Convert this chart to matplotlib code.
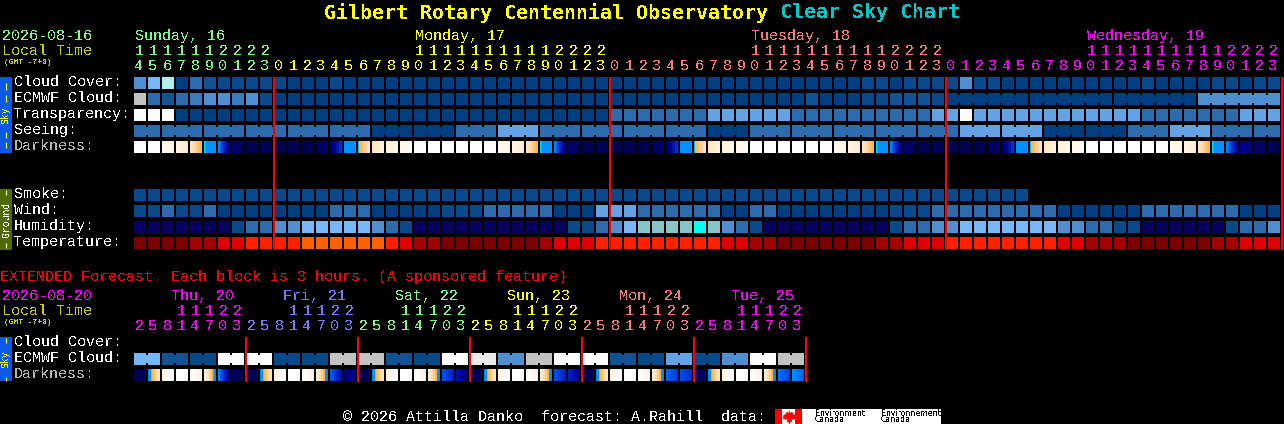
import matplotlib
matplotlib.use('Agg')
import matplotlib.pyplot as plt
import numpy as np
from matplotlib.colors import LinearSegmentedColormap

plt.rcParams['text.antialiased'] = False
MONO = 'Liberation Mono'

# block colours, the rows below index into this
palette = ['#003f7f', '#0a4989', '#135393', '#2c6cac', '#3b7bbb', '#4f8fcf', '#63a3e3', '#77b7f7',
           '#aeeeee', '#c2c2c2', '#eaeaea', '#fcfcfc', '#08005e', '#88c4c4', '#00ffee']
temp_palette = ['#7a0000', '#a40000', '#e00000', '#ff2000', '#ff6000']

# 82 hourly columns
cloud = [5, 7, 8, 0, 3, 2, 1, 1, 1, 1, 1, 0, 0, 0, 1, 0, 0, 0, 0, 0, 0, 0, 0, 0, 0, 0, 0, 0, 0, 0, 0, 0, 0, 0, 0, 0, 0,
         0, 0, 0, 0, 0, 0, 0, 0, 0, 0, 0, 0, 0, 0, 0, 1, 1, 0, 1, 1, 1, 1, 5, 1, 1, 0, 0, 0, 0, 0, 0, 0, 0, 0, 0, 1, 0,
         0, 0, 0, 1, 1, 0, 1, 1]
ecmwf = [9, 3, 2, 3, 4, 5, 5, 4, 5, 1, 0, 0, 0, 0, 0, 0, 0, 0, 0, 0, 0, 0, 0, 0, 0, 0, 0, 0, 0, 0, 0, 0, 0, 0, 0, 0, 0,
         0, 0, 0, 0, 0, 0, 0, 0, 0, 0, 0, 2, 0, 0, 0, 1, 1, 2, 2, 2, 1, 0, 0, 0, 0, 0, 0, 0, 0, 0, 0, 0, 0, 0, 0, 0, 0,
         0, 0, 5, 5, 5, 5, 5, 5]
transparency = [11, 11, 11, 0, 0, 0, 0, 0, 0, 0, 0, 0, 0, 0, 0, 0, 0, 0, 0, 0, 0, 0, 0, 0, 0, 0, 0, 0, 0, 0, 0, 0, 0, 0,
                3, 3, 3, 3, 3, 3, 3, 6, 6, 6, 6, 6, 6, 3, 3, 3, 3, 3, 3, 3, 3, 3, 3, 6, 6, 11, 6, 6, 6, 6, 6, 6, 6, 6,
                6, 6, 6, 6, 3, 3, 3, 3, 3, 3, 3, 6, 6, 6]
# seeing comes in 3 hour blocks, first and last one are cut to 2 columns
seeing_blocks = [3, 3, 3, 3, 3, 3, 0, 0, 3, 6, 3, 3, 3, 3, 0, 3, 3, 3, 3, 3, 6, 6, 0, 0, 3, 6, 3, 3]
seeing_sizes = [2] + [3] * 26 + [2]
smoke = [1] * 64
wind = [1, 1, 3, 1, 1, 3, 0, 0, 0, 0, 0, 0, 0, 0, 3, 3, 3, 0, 0, 0, 0, 0, 1, 1, 1, 3, 3, 3, 3, 3, 0, 0, 0, 6, 6, 6, 3,
        3, 3, 3, 3, 3, 0, 0, 3, 3, 0, 0, 0, 0, 0, 0, 0, 0, 1, 1, 1, 3, 3, 3, 3, 3, 3, 3, 3, 3, 0, 0, 0, 0, 0, 0, 3, 3,
        3, 3, 3, 3, 3, 0, 0, 0]
humidity = [12, 12, 12, 12, 12, 12, 12, 1, 3, 3, 5, 5, 7, 7, 7, 7, 7, 5, 3, 1, 12, 12, 12, 12, 12, 12, 12, 12, 12, 12,
            12, 1, 1, 3, 5, 7, 13, 13, 13, 13, 14, 13, 5, 3, 1, 12, 12, 12, 12, 12, 12, 12, 12, 12, 1, 3, 3, 5, 5, 7,
            7, 7, 7, 7, 7, 7, 5, 5, 3, 3, 1, 1, 12, 12, 12, 12, 12, 12, 1, 3, 3, 5]
temperature = [0, 0, 0, 0, 1, 1, 2, 2, 3, 3, 3, 3, 4, 4, 4, 4, 4, 4, 3, 2, 1, 1, 0, 0, 0, 0, 0, 0, 0, 1, 2, 2, 2, 3, 3,
               3, 3, 3, 3, 3, 3, 3, 2, 2, 1, 1, 0, 0, 0, 0, 0, 0, 0, 1, 1, 2, 2, 2, 3, 3, 3, 3, 3, 3, 3, 3, 2, 2, 1, 1,
               1, 0, 0, 0, 0, 0, 0, 1, 1, 2, 2, 2]

# darkness inside one block goes from start to end on the scale of dark_stops
dark_start = [0, 0, .4, .8, 1.6, 3.1, 3.5, 6.5, 7, 7, 7, 7, 7, 6.8, 6.8, 3.5, 3.12, 1.6, 1, .6, .2, 0, 0, 0, 0,
              0, .4, .8, 1.6, 3.1, 3.5, 6.5, 7, 7, 7, 7, 7, 6.8, 6.8, 3.5, 3.12, 1.6, 1, .6, .2, 0, 0, 0, 0,
              0, .4, .8, 1.6, 3.1, 3.5, 6.5, 7, 7, 7, 7, 7, 6.8, 6.8, 3.5, 3.12, 1.6, 1, .6, .2, 0, 0, 0, 0,
              0, .4, .8, 1.6, 3.1, 3.5, 6, 6.5, 6.8]
dark_end = [0, .3, .9, 1.4, 3, 3.5, 6.3, 6.8, 7, 7, 7, 7, 7, 6.6, 4.5, 3.4, 1.7, 1, .6, .3, 0, 0, 0, 0, 0,
            .3, .9, 1.4, 3, 3.5, 6.3, 6.8, 7, 7, 7, 7, 7, 6.6, 4.5, 3.4, 1.7, 1, .6, .3, 0, 0, 0, 0, 0,
            .3, .9, 1.4, 3, 3.5, 6.3, 6.8, 7, 7, 7, 7, 7, 6.6, 4.5, 3.4, 1.7, 1, .6, .3, 0, 0, 0, 0, 0,
            .3, .9, 1.4, 3, 3.5, 5.8, 6.2, 6.8, 7]
dark_stops = [(0, '#ffffff'), (1, '#fff3e0'), (2, '#ffdfb0'), (3, '#ffb040'), (3.1, '#00e0ff'), (3.15, '#0090ff'),
              (3.5, '#0090ff'), (4, '#0060f0'), (5, '#0020c0'), (6, '#000090'), (7, '#000050')]

# extended forecast, 48 columns of 3 hours
ext_ecmwf_blocks = [7, 2, 1, 11, 11, 1, 1, 9, 9, 2, 1, 11, 10, 5, 9, 11, 11, 2, 1, 6, 1, 5, 11, 9]
ext_dark_start = [7, 3.6, 1, 0, 0, 1, 3.5, 6.8, 7, 3.6, 1, 0, 0, 1.2, 4, 6.5, 7, 3.6, 1, 0, 0, 1.2, 4.2, 5.5,
                  7, 3.6, 1, 0, 0, 1.2, 4.2, 5, 7, 3.6, 1, 0, 0, 1.2, 3.9, 4.3, 6.5, 3.6, 1, 0, 0, 1.2, 3.8, 3.5]
ext_dark_end = [7, 1.6, 0, 0, 1, 3.6, 6.2, 7, 7, 1.6, 0, 0, 1, 3.6, 5.5, 6, 7, 1.6, 0, 0, 1, 3.6, 5, 6.5,
                7, 1.6, 0, 0, 1, 3.6, 5, 6, 7, 1.6, 0, 0, 1, 3.6, 4.6, 4.8, 7, 1.6, 0, 0, 1, 3.6, 4.4, 4]

# tick labels
hours = list(range(14, 24)) + list(range(24)) * 3
day_names = ['Sunday, 16', 'Monday, 17', 'Tuesday, 18', 'Wednesday, 19']
day_first_col = [0, 10, 34, 58]
day_label_col = [0, 20, 44, 68]
day_colors = ['#77ff77', '#ffff00', '#ff7777', '#ff00ff']
ext_hours = [2, 5, 8, 11, 14, 17, 20, 23] * 6
ext_days = ['Thu, 20', 'Fri, 21', 'Sat, 22', 'Sun, 23', 'Mon, 24', 'Tue, 25']
ext_colors = ['#ff00ff', '#7777ff', '#77ff77', '#ffff00', '#ff7777', '#ff00ff']

X0 = 134
PITCH = 14
CELL = 12
dark_cmap = LinearSegmentedColormap.from_list('dark', [(p / 7, c) for p, c in dark_stops], N=2048)
# rough outline of the maple leaf in the logo
leaf = [(0, 1), (.2, .6), (.4, .7), (.3, .2), (.6, .4), (.7, .2), (1, .25), (.85, -.1), (1, -.2), (.45, -.6), (.5, -.8),
        (.06, -.7), (.06, -1), (-.06, -1), (-.06, -.7), (-.5, -.8), (-.45, -.6), (-1, -.2), (-.85, -.1), (-1, .25),
        (-.7, .2), (-.6, .4), (-.3, .2), (-.4, .7), (-.2, .6)]


def col_x(n):
    return X0 + PITCH * np.asarray(n)


def draw_row(ax, y, codes, colors):
    n = np.arange(len(codes))
    ax.bar(col_x(n), CELL, bottom=y, width=CELL, align='edge', color=[colors[c] for c in codes], linewidth=0,
           antialiased=False)


def draw_blocks(ax, y, values, sizes, first=0):
    # blocks several columns long, joined by a bridge that leaves a notch top and bottom
    for v, size in zip(values, sizes):
        ax.bar(col_x(np.arange(first, first + size)), CELL, bottom=y, width=CELL, align='edge', color=palette[v],
               linewidth=0, antialiased=False)
        ax.bar(col_x(np.arange(first, first + size - 1)) + CELL, 8, bottom=y + 2, width=PITCH - CELL, align='edge',
               color=palette[v], linewidth=0, antialiased=False)
        first += size


def draw_dark(ax, y, start, end):
    for n, (a, b) in enumerate(zip(start, end)):
        x = col_x(n)
        ax.imshow(np.linspace(a, b, CELL)[None, :], cmap=dark_cmap, vmin=0, vmax=7, aspect='auto',
                  interpolation='nearest', extent=(x, x + CELL, y + CELL, y))


def label(ax, x, y, s, color='white', px=15, **kw):
    kw.setdefault('family', MONO)
    ax.text(x, y + 1, s, color=color, fontsize=px * 0.72, va='center', **kw)


def red_lines(ax, xs, top, bottom):
    ax.bar(xs, bottom - top, bottom=top, width=2, align='edge', color='#ff0000', linewidth=0, antialiased=False,
           zorder=5)


def side_bar(ax, top, bottom, color, word, word_y, text_color, dashes):
    ax.bar(0, bottom - top, bottom=top, width=12, align='edge', color=color, linewidth=0)
    ax.text(6, word_y, word, color=text_color, family=MONO, fontsize=7, rotation=90, ha='center', va='center')
    ax.vlines([6] * len(dashes), [d[0] for d in dashes], [d[1] for d in dashes], color=text_color, linewidth=0.8)


fig = plt.figure(figsize=(12.84, 4.24), dpi=100, facecolor='black')
ax = fig.add_axes([0, 0, 1, 1])
ax.set_facecolor('black')
ax.axis('off')

# title
ax.text(324, 13, 'Gilbert Rotary Centennial Observatory', color='#ffff00', family='DejaVu Sans Mono',
        weight='bold', fontsize=20 * 0.72, va='center')
ax.text(780, 13, 'Clear Sky Chart', color='#00c8c8', family='DejaVu Sans Mono', weight='bold',
        fontsize=20 * 0.72, va='center')

# main header
label(ax, 2, 35, '2026-08-16', '#77ff77')
label(ax, 2, 50, 'Local Time', '#cccc00')
label(ax, 4, 62, '(GMT -7+0)', '#cccc00', px=8)
for i, name in enumerate(day_names):
    label(ax, col_x(day_label_col[i]) + 1, 35, name, day_colors[i])
for n, h in enumerate(hours):
    c = day_colors[np.searchsorted(day_first_col, n, side='right') - 1]
    if h >= 10:
        label(ax, col_x(n) + 5, 50, str(h // 10), c, ha='center')
    label(ax, col_x(n) + 5, 65, str(h % 10), c, ha='center')

# main rows
rows = [('Cloud Cover:', 77), ('ECMWF Cloud:', 93), ('Transparency:', 109), ('Seeing:', 125), ('Darkness:', 141),
        ('Smoke:', 189), ('Wind:', 205), ('Humidity:', 221), ('Temperature:', 237)]
for name, y in rows:
    label(ax, 14, y + 4, name, '#b4b4b4' if name == 'Darkness:' else 'white')
draw_row(ax, 77, cloud, palette)
draw_row(ax, 93, ecmwf[:58], palette)
ax.bar(col_x(np.arange(58, 82)), CELL, bottom=93, width=CELL, align='edge', color=[palette[c] for c in ecmwf[58:]],
       linewidth=0, antialiased=False)
for first in [58, 64, 70, 76]:
    ax.bar(col_x(np.arange(first, first + 5)) + CELL, 8, bottom=95, width=PITCH - CELL, align='edge',
           color=palette[ecmwf[first]], linewidth=0, antialiased=False)
draw_row(ax, 109, transparency, palette)
draw_blocks(ax, 125, seeing_blocks, seeing_sizes)
draw_dark(ax, 141, dark_start, dark_end)
draw_row(ax, 189, smoke, palette)
draw_row(ax, 205, wind, palette)
draw_row(ax, 221, humidity, palette)
draw_row(ax, 237, temperature, temp_palette)
red_lines(ax, [273, 609, 945, 1281], 77, 250)

# side bars
side_bar(ax, 77, 153, '#0a5ae6', 'Sky', 115, '#ffff00', [(83, 90), (95, 102), (132, 138), (142, 148)])
side_bar(ax, 189, 250, '#4f6b00', 'Ground', 219, 'white', [(190, 195), (243, 248)])

# extended forecast
label(ax, 0, 276, 'EXTENDED Forecast. Each block is 3 hours. (A sponsored feature)', '#ff0000')
label(ax, 2, 295, '2026-08-20', '#ff00ff')
label(ax, 2, 310, 'Local Time', '#cccc00')
label(ax, 4, 322, '(GMT -7+0)', '#cccc00', px=8)
for i, name in enumerate(ext_days):
    label(ax, col_x(8 * i) + 37, 295, name, ext_colors[i])
for n, h in enumerate(ext_hours):
    c = ext_colors[n // 8]
    if h >= 10:
        label(ax, col_x(n) + 5, 310, str(h // 10), c, ha='center')
    label(ax, col_x(n) + 5, 325, str(h % 10), c, ha='center')
for name, y in [('Cloud Cover:', 337), ('ECMWF Cloud:', 353), ('Darkness:', 369)]:
    label(ax, 14, y + 4, name, '#b4b4b4' if name == 'Darkness:' else 'white')
draw_blocks(ax, 353, ext_ecmwf_blocks, [2] * 24)
draw_dark(ax, 369, ext_dark_start, ext_dark_end)
red_lines(ax, [245, 357, 469, 581, 693, 805], 337, 382)
side_bar(ax, 337, 381, '#0a5ae6', 'Sky', 359, '#ffff00', [(338, 343), (377, 381)])

# footer with the Environment Canada logo
label(ax, 343, 416, '\u00a9 2026 Attilla Danko  forecast: A.Rahill  data:')
ax.bar(775, 15, bottom=409, width=166, align='edge', color='white', linewidth=0)
ax.bar([775, 795], 15, bottom=409, width=7, align='edge', color='#ff0000', linewidth=0)
ax.scatter([788.5], [416.5], marker=[(x, -y) for x, y in leaf], s=100, color='#ff0000', linewidths=0, zorder=3)
for x, word in [(815, 'Environment'), (881, 'Environnement')]:
    ax.text(x, 413, word, color='black', family='DejaVu Sans', fontsize=5.6, va='center', zorder=3)
    ax.text(x, 420, 'Canada', color='black', family='DejaVu Sans', fontsize=5.6, va='center', zorder=3)

ax.set_xlim(0, 1284)
ax.set_ylim(424, 0)
fig.savefig('out.png', dpi=100, facecolor='black')
